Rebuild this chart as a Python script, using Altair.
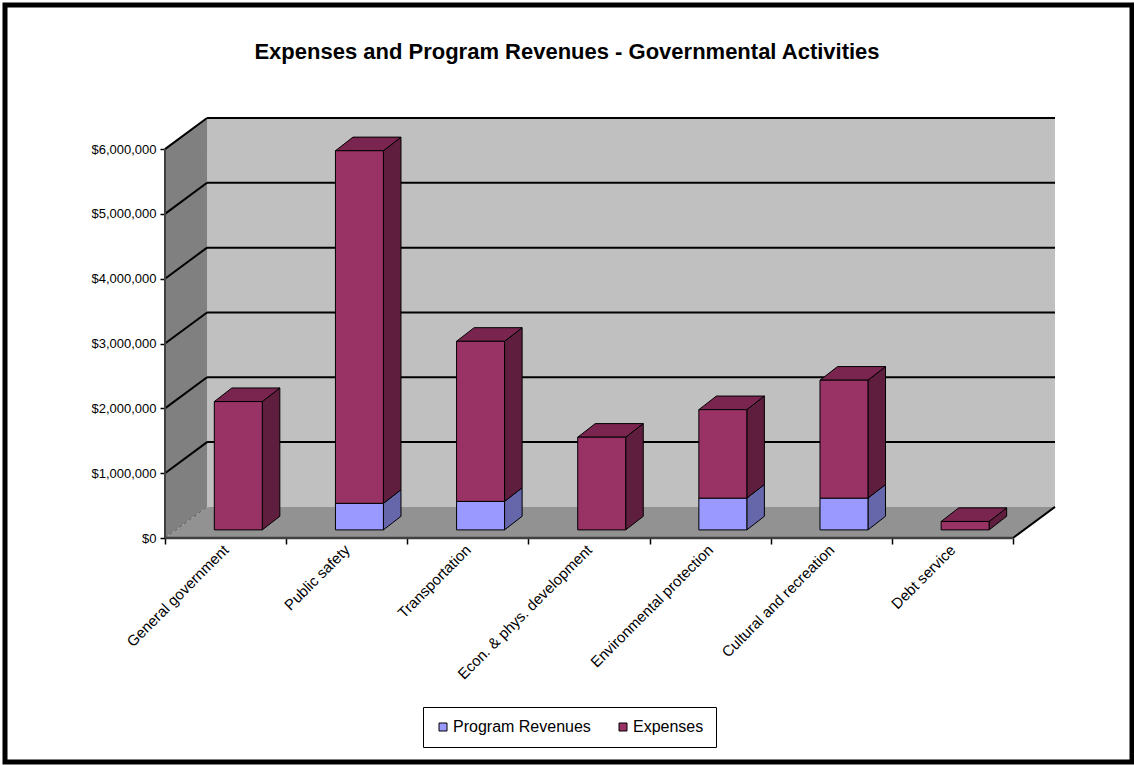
import json
import altair as alt
import pandas as pd

# ---------------- data ----------------
categories = [
    "General government",
    "Public safety",
    "Transportation",
    "Econ. & phys. development",
    "Environmental protection",
    "Cultural and recreation",
    "Debt service",
]
program_revenues = [0, 410000, 440000, 0, 490000, 490000, 0]
expenses = [1980000, 5440000, 2470000, 1430000, 1365000, 1820000, 130000]
series_names = ["Program Revenues", "Expenses"]
y_ticks = [0, 1000000, 2000000, 3000000, 4000000, 5000000, 6000000]

# ---------------- 3-D geometry (in data units) ----------------
N = len(categories)
YMAX = y_ticks[-1]
DXF, DYF = 0.347, 480000       # full depth of floor / walls
BX0, BY0 = 0.105, 125000       # depth at which bar fronts sit
DXB, DYB = 0.145, 210000       # bar depth
BW = 0.396                     # bar width

W, H = 890, 420
FONT = "Liberation Sans"

front_rows, side_rows, top_rows = [], [], []
for i, cat in enumerate(categories):
    xc = i + 0.5 + BX0
    xl, xr = xc - BW / 2, xc + BW / 2
    base = BY0
    vals = [program_revenues[i], expenses[i]]
    for s, (name, v) in enumerate(zip(series_names, vals)):
        if v <= 0:
            continue
        y0, y1 = base, base + v
        front_rows.append(dict(cat=cat, series=name, xl=xl, xr=xr, y0=y0, y1=y1))
        side_rows.append(dict(cat=cat, series=name, x=xr, lo=y0, hi=y1))
        side_rows.append(dict(cat=cat, series=name, x=xr + DXB, lo=y0 + DYB, hi=y1 + DYB))
        base = y1
    top_rows.append(dict(cat=cat, y=base, xl=xl, xr=xr))
    top_rows.append(dict(cat=cat, y=base + DYB, xl=xl + DXB, xr=xr + DXB))

front_df = pd.DataFrame(front_rows)
side_df = pd.DataFrame(side_rows)
top_df = pd.DataFrame(top_rows)

xscale = alt.Scale(domain=[0, N + DXF], nice=False, zero=False)
yscale = alt.Scale(domain=[0, YMAX + DYF], nice=False, zero=False)

label_expr = "datum.value < %d ? %s[datum.value] : ''" % (N, json.dumps(categories))
xaxis = alt.Axis(
    values=list(range(N + 1)), labelExpr=label_expr, labelAngle=-45, labelAlign="right",
    labelBaseline="middle", labelOffset=W / (N + DXF) / 2, labelPadding=3,
    labelOverlap=False, labelBound=False, labelFlush=False, labelLimit=400,
    tickSize=6, tickColor="black", tickWidth=1.5, domain=False, grid=False,
    labelFont=FONT, labelFontSize=15, labelColor="black", title=None,
)
yaxis = alt.Axis(
    values=y_ticks, format="$,.0f", tickSize=5, tickColor="black", tickWidth=1.5,
    domain=False, grid=False, labelFont=FONT, labelFontSize=13, labelColor="black",
    labelPadding=4, labelOverlap=False, title=None,
)


def X(field):
    return alt.X(field, type="quantitative", scale=xscale, axis=xaxis)


def Y(field):
    return alt.Y(field, type="quantitative", scale=yscale, axis=yaxis)


# structure tables derived from ticks
back_df = pd.DataFrame([dict(x=DXF, x2=N + DXF, y=DYF, y2=YMAX + DYF)])
left_df = pd.DataFrame([dict(x=0, lo=0, hi=YMAX), dict(x=DXF, lo=DYF, hi=YMAX + DYF)])
floor_df = pd.DataFrame([dict(y=0, xl=0, xr=N), dict(y=DYF, xl=DXF, xr=N + DXF)])
grid_back_df = pd.DataFrame([dict(y=t + DYF, x=DXF, x2=N + DXF) for t in y_ticks[1:]])
grid_left_df = pd.DataFrame(
    [dict(k=t, x=0, y=t) for t in y_ticks[1:]] + [dict(k=t, x=DXF, y=t + DYF) for t in y_ticks[1:]]
)
diag0_df = pd.DataFrame([dict(x=0, y=0), dict(x=DXF, y=DYF)])
floor_right_df = pd.DataFrame([dict(x=N, y=0), dict(x=N + DXF, y=DYF)])
edge_df = pd.DataFrame([dict(x=0, x2=N, y=0, yt=YMAX)])

back = alt.Chart(back_df).mark_rect(color="#C0C0C0").encode(x=X("x"), x2="x2", y=Y("y"), y2="y2")
left = alt.Chart(left_df).mark_area(color="#808080").encode(x=X("x"), y=Y("lo"), y2="hi")
floor = alt.Chart(floor_df).mark_area(color="#929292", orient="horizontal").encode(
    y=Y("y"), x=X("xl"), x2="xr")
grid_back = alt.Chart(grid_back_df).mark_rule(color="black", strokeWidth=2).encode(
    x=X("x"), x2="x2", y=Y("y"))
grid_left = alt.Chart(grid_left_df).mark_line(color="black", strokeWidth=2).encode(
    x=X("x"), y=Y("y"), detail="k:N")
diag0 = alt.Chart(diag0_df).mark_line(color="#5a5a5a", strokeWidth=1, strokeDash=[3, 3]).encode(
    x=X("x"), y=Y("y"))
floor_right = alt.Chart(floor_right_df).mark_line(color="black", strokeWidth=2).encode(
    x=X("x"), y=Y("y"))
front_edge = alt.Chart(edge_df).mark_rule(color="#404040", strokeWidth=2.5).encode(
    x=X("x"), x2="x2", y=Y("y"))
y_edge = alt.Chart(edge_df).mark_rule(color="#404040", strokeWidth=2).encode(
    x=X("x"), y=Y("y"), y2="yt")

front = alt.Chart(front_df).mark_rect(stroke="black", strokeWidth=1).encode(
    x=X("xl"), x2="xr", y=Y("y0"), y2="y1",
    color=alt.Color(
        "series:N",
        scale=alt.Scale(domain=series_names, range=["#9999FF", "#993366"]),
        legend=alt.Legend(
            orient="none", legendX=258, legendY=589, direction="horizontal", title=None,
            strokeColor="black", fillColor="white", padding=12, symbolType="square",
            symbolSize=64, symbolStrokeColor="black", symbolStrokeWidth=1,
            labelFont=FONT, labelFontSize=16, labelColor="black", columnPadding=24,
            labelOffset=2,
        ),
    ),
)
side_rev = alt.Chart(side_df).transform_filter(alt.datum.series == "Program Revenues").mark_area(
    color="#6666AA", stroke="black", strokeWidth=1).encode(x=X("x"), y=Y("lo"), y2="hi", detail="cat:N")
side_exp = alt.Chart(side_df).transform_filter(alt.datum.series == "Expenses").mark_area(
    color="#5F1E3E", stroke="black", strokeWidth=1).encode(x=X("x"), y=Y("lo"), y2="hi", detail="cat:N")
top = alt.Chart(top_df).mark_area(
    color="#7A2450", stroke="black", strokeWidth=1, orient="horizontal").encode(
    y=Y("y"), x=X("xl"), x2="xr", detail="cat:N")

frame = alt.Chart(alt.Data(values=[{}])).mark_rect(
    fillOpacity=0, stroke="black", strokeWidth=5).encode(
    x=alt.value(-160), x2=alt.value(W + 77), y=alt.value(-113), y2=alt.value(H + 224))

chart = alt.layer(
    back, left, floor, grid_back, grid_left, diag0, floor_right, front_edge, y_edge,
    side_rev, side_exp, top, front, frame,
).properties(
    width=W, height=H,
    title=alt.TitleParams(
        "Expenses and Program Revenues - Governmental Activities",
        font=FONT, fontSize=22, fontWeight="bold", color="black",
        anchor="middle", dx=-43, offset=-61,
    ),
    autosize=alt.AutoSizeParams(type="none"),
    padding={"left": 165, "top": 118, "right": 79, "bottom": 227},
    background="white",
).configure_view(strokeWidth=0)

chart.save("out.html", embed_options={"renderer": "svg", "actions": False})
